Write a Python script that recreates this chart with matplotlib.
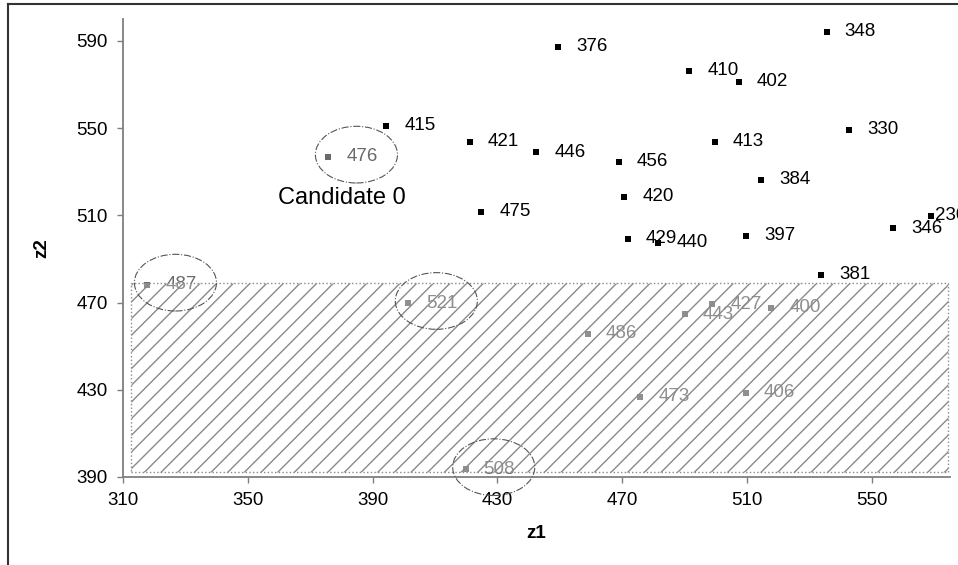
import numpy as np
import matplotlib
matplotlib.use('Agg')
import matplotlib.pyplot as plt
from matplotlib.patches import Rectangle, Ellipse
from matplotlib.lines import Line2D

plt.rcParams['font.family'] = ['Liberation Sans', 'DejaVu Sans']

# points outside the shaded region (black)
black_ids = ['415', '421', '446', '456', '376', '410', '402', '348', '330', '413',
             '384', '420', '475', '429', '440', '397', '346', '230', '381']
black_z1 = [394.3, 421.2, 442.5, 468.9, 449.5, 491.5, 507.4, 535.5, 542.6, 499.7,
            514.5, 470.6, 424.8, 471.8, 481.6, 509.8, 556.7, 568.8, 533.8]
black_z2 = [551.0, 543.7, 538.8, 534.6, 587.2, 576.2, 571.3, 594.1, 549.2, 543.7,
            526.2, 518.6, 511.7, 499.3, 497.3, 500.7, 504.1, 509.7, 482.8]

# greyed points (inside region, plus the candidate)
grey_ids = ['476', '487', '521', '508', '486', '443', '427', '400', '473', '406']
grey_z1 = [375.8, 317.8, 401.4, 419.8, 458.9, 490.0, 498.9, 517.8, 475.8, 509.6]
grey_z2 = [536.8, 478.1, 469.7, 393.5, 455.6, 464.6, 469.2, 467.5, 426.7, 428.7]

circled = ['476', '487', '521', '508']
candidate = '476'

# shaded region bounds
region_z1 = (312.5, 574.4)
region_z2 = (392.4, 479.1)

xticks = [310, 350, 390, 430, 470, 510, 550]
yticks = [390, 430, 470, 510, 550, 590]

fig = plt.figure(figsize=(9.58, 5.65), dpi=100)
ax = fig.add_axes([0.1284, 0.1558, 0.8632, 0.8106])
ax.set_xlim(310, 575)
ax.set_ylim(390, 600)


def offset_for(x):
    # labels near the right edge get pulled in
    return 3 if x > 565 else 13


ax.scatter(black_z1, black_z2, marker='s', s=24, color='black', zorder=3, linewidths=0)
for lab, x, y in zip(black_ids, black_z1, black_z2):
    ax.annotate(lab, (x, y), xytext=(offset_for(x), 0), textcoords='offset points',
                va='center', ha='left', fontsize=13.5, color='black', zorder=4,
                annotation_clip=False)

ax.scatter(grey_z1, grey_z2, marker='s', s=14, color='#6a6a6a', zorder=2, linewidths=0)
for lab, x, y in zip(grey_ids, grey_z1, grey_z2):
    ax.annotate(lab, (x, y), xytext=(13, 0), textcoords='offset points',
                va='center', ha='left', fontsize=13.5, color='#6a6a6a', zorder=2)

# shaded region
w = region_z1[1] - region_z1[0]
h = region_z2[1] - region_z2[0]
ax.add_patch(Rectangle((region_z1[0], region_z2[0]), w, h, facecolor='white',
                       alpha=0.25, edgecolor='none', zorder=5))
ax.add_patch(Rectangle((region_z1[0], region_z2[0]), w, h, fill=False, hatch='//',
                       edgecolor='#8a8a8a', linewidth=1.0, linestyle=':', zorder=5))

# dashed circles around selected points
lookup = dict(zip(grey_ids, zip(grey_z1, grey_z2)))
for lab in circled:
    x, y = lookup[lab]
    ax.add_patch(Ellipse((x + 9, y + 1), 26.3, 26, fill=False, edgecolor='#555555',
                         linestyle='-.', linewidth=0.8, zorder=6, clip_on=False))

cx, cy = lookup[candidate]
ax.text(cx - 16, cy - 19, 'Candidate 0', fontsize=17, ha='left', va='center', zorder=6)

for side in ['top', 'right']:
    ax.spines[side].set_visible(False)
for side in ['left', 'bottom']:
    ax.spines[side].set_color('#7f7f7f')
    ax.spines[side].set_linewidth(1.3)

ax.set_xticks(xticks)
ax.set_yticks(yticks)
ax.tick_params(direction='out', length=4, width=1, color='#7f7f7f', labelsize=13.5, pad=7)

ax.set_xlabel('z1', fontsize=13.5, fontweight='bold')
ax.set_ylabel('z2', fontsize=13.5, fontweight='bold')
ax.xaxis.set_label_coords(0.5, -0.105)
ax.yaxis.set_label_coords(-0.088, 0.5)

# outer frame
fig.add_artist(Line2D([8 / 958, 8 / 958], [0, 1 - 4 / 565], color='#333333', linewidth=1.5))
fig.add_artist(Line2D([8 / 958, 1], [1 - 4 / 565, 1 - 4 / 565], color='#333333', linewidth=1.5))

plt.savefig('out.png', dpi=100)
